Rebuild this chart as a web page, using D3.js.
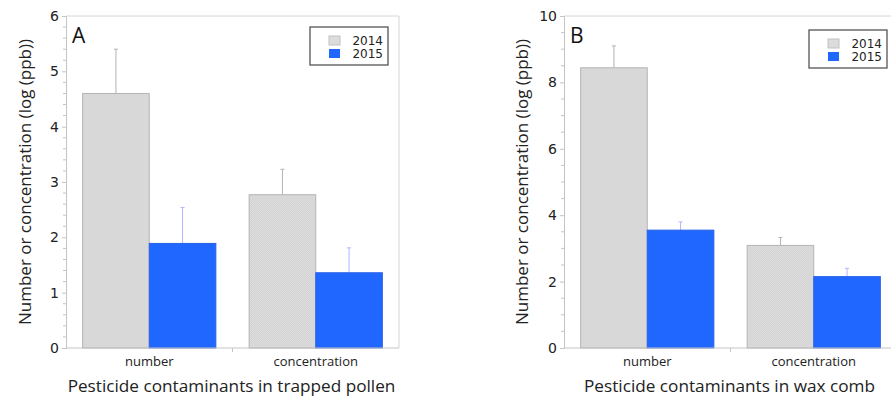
<!DOCTYPE html>
<html>
<head>
<meta charset="utf-8">
<script src="https://cdn.jsdelivr.net/npm/d3@7"></script>
<style>
  html, body { margin: 0; padding: 0; background: #fff; }
  svg { display: block; font-family: "Open Sans", "DejaVu Sans", sans-serif; }
</style>
</head>
<body>
<svg id="chart" width="891" height="398"></svg>
<script>
// Pesticide contaminants, log(ppb): bar means with upper error
const categories = ["number", "concentration"];
const years = ["2014", "2015"];

const pollen2014 = [4.60, 2.77];
const pollen2015 = [1.89, 1.36];
const pollenErr2014 = [0.80, 0.46];
const pollenErr2015 = [0.65, 0.45];

const wax2014 = [8.44, 3.09];
const wax2015 = [3.55, 2.15];
const waxErr2014 = [0.66, 0.24];
const waxErr2015 = [0.25, 0.25];

const pollenTicks = [0, 1, 2, 3, 4, 5, 6];
const waxTicks = [0, 2, 4, 6, 8, 10];

const yLabel = "Number or concentration (log (ppb))";

const panels = [
  {
    letter: "A", title: "Pesticide contaminants in trapped pollen",
    v14: pollen2014, v15: pollen2015, e14: pollenErr2014, e15: pollenErr2015,
    ticks: pollenTicks, minorStep: 0.2,
    left: 66, right: 399, legendX: 310, legendY: 27, yLabelX: 25
  },
  {
    letter: "B", title: "Pesticide contaminants in wax comb",
    v14: wax2014, v15: wax2015, e14: waxErr2014, e15: waxErr2015,
    ticks: waxTicks, minorStep: 0.5,
    left: 564, right: 897, legendX: 809, legendY: 30, yLabelX: 522
  }
];

const plotTop = 16, plotBottom = 348;
const grayFill = "url(#grayTexture)";
const blue = "#2067ff";
const axisColor = "#c4c4c4";

const svg = d3.select("#chart");

// fine checker texture for the 2014 bars
const pat = svg.append("defs").append("pattern")
  .attr("id", "grayTexture").attr("width", 2).attr("height", 2)
  .attr("patternUnits", "userSpaceOnUse");
pat.append("rect").attr("width", 2).attr("height", 2).attr("fill", "#dedede");
pat.append("rect").attr("width", 1).attr("height", 1).attr("fill", "#d2d2d2");
pat.append("rect").attr("x", 1).attr("y", 1).attr("width", 1).attr("height", 1).attr("fill", "#d2d2d2");

panels.forEach(p => {
  const g = svg.append("g");
  const yMax = d3.max(p.ticks);
  const y = d3.scaleLinear().domain([0, yMax]).range([plotBottom, plotTop]);
  const x = d3.scaleBand().domain(categories).range([p.left, p.right])
    .paddingInner(0.2).paddingOuter(0.1);
  const xs = d3.scaleBand().domain(years).range([0, x.bandwidth()]);

  // frame: top and right borders
  g.append("path")
    .attr("d", `M${p.left},${plotTop}H${p.right}V${plotBottom}`)
    .attr("fill", "none").attr("stroke", "#d6d6d6").attr("stroke-width", 1);

  // bars
  const rows = categories.map((c, i) => ({
    cat: c,
    items: [
      { year: "2014", v: p.v14[i], e: p.e14[i] },
      { year: "2015", v: p.v15[i], e: p.e15[i] }
    ]
  }));

  const grp = g.selectAll("g.cat").data(rows).join("g")
    .attr("class", "cat")
    .attr("transform", d => `translate(${x(d.cat)},0)`);

  // error bars (upper only), drawn behind the bars
  grp.selectAll("g.err").data(d => d.items).join("g").attr("class", "err").each(function(d) {
    const cx = xs(d.year) + xs.bandwidth() / 2;
    const col = d.year === "2014" ? "#b3b3b3" : "#b2b6ff";
    const e = d3.select(this);
    e.append("line").attr("x1", cx).attr("x2", cx)
      .attr("y1", y(d.v)).attr("y2", y(d.v + d.e))
      .attr("stroke", col).attr("stroke-width", 1);
    e.append("line").attr("x1", cx - 2).attr("x2", cx + 2)
      .attr("y1", y(d.v + d.e)).attr("y2", y(d.v + d.e))
      .attr("stroke", col).attr("stroke-width", 1);
  });

  grp.selectAll("rect.bar").data(d => d.items).join("rect")
    .attr("class", "bar")
    .attr("x", d => xs(d.year))
    .attr("y", d => y(d.v))
    .attr("width", xs.bandwidth())
    .attr("height", d => y(0) - y(d.v))
    .attr("fill", d => d.year === "2014" ? grayFill : blue)
    .attr("stroke", d => d.year === "2014" ? "#b4b4b4" : "#2a62e8")
    .attr("stroke-width", 1);

  // y axis with minor ticks
  const yAxis = d3.axisLeft(y).tickValues(p.ticks).tickSize(4).tickPadding(3)
    .tickFormat(d3.format("d"));
  const ya = g.append("g").attr("transform", `translate(${p.left},0)`).call(yAxis);
  ya.select(".domain").attr("stroke", axisColor);
  ya.selectAll(".tick line").attr("stroke", axisColor);
  ya.selectAll(".tick text").attr("fill", "#222").attr("font-size", 14)
    .attr("font-family", "'DejaVu Sans', sans-serif");
  const minor = d3.range(0, yMax + 1e-9, p.minorStep)
    .filter(v => !p.ticks.some(t => Math.abs(t - v) < 1e-6));
  ya.selectAll("line.minor").data(minor).join("line")
    .attr("class", "minor").attr("x1", -3).attr("x2", 0)
    .attr("y1", d => y(d)).attr("y2", d => y(d))
    .attr("stroke", axisColor);

  // x axis: baseline plus divider tick between categories
  const xa = g.append("g").attr("transform", `translate(0,${plotBottom})`);
  xa.append("line").attr("x1", p.left).attr("x2", p.right)
    .attr("stroke", axisColor);
  const divider = p.left + x.step();
  xa.append("line").attr("x1", divider).attr("x2", divider)
    .attr("y1", 0).attr("y2", 4).attr("stroke", axisColor);
  xa.selectAll("text").data(categories).join("text")
    .attr("x", d => x(d) + x.bandwidth() / 2).attr("y", 18)
    .attr("text-anchor", "middle").attr("font-size", 13).attr("fill", "#222")
    .text(d => d);

  // axis titles
  g.append("text")
    .attr("x", (p.left + p.right) / 2 - 1)
    .attr("y", 392)
    .attr("text-anchor", "middle").attr("font-size", 17.2).attr("fill", "#222")
    .text(p.title);
  g.append("text")
    .attr("transform", `translate(${p.yLabelX},${(plotTop + plotBottom) / 2}) rotate(-90)`)
    .attr("dy", "0.35em")
    .attr("text-anchor", "middle").attr("font-size", 17).attr("fill", "#222")
    .text(yLabel);

  // panel letter
  g.append("text").attr("x", p.left + 6).attr("y", 43)
    .attr("font-size", 21).attr("fill", "#111").text(p.letter);

  // legend
  const lg = g.append("g").attr("transform", `translate(${p.legendX},${p.legendY})`);
  lg.append("rect").attr("width", 78).attr("height", 38)
    .attr("fill", "#fff").attr("stroke", "#555").attr("stroke-width", 1.3);
  years.forEach((yr, i) => {
    lg.append("rect").attr("x", 19).attr("y", 9 + i * 13)
      .attr("width", 11).attr("height", 9)
      .attr("fill", i === 0 ? "#dcdcdc" : blue)
      .attr("stroke", i === 0 ? "#c2c2c2" : "none");
    lg.append("text").attr("x", 73).attr("y", 18 + i * 13)
      .attr("text-anchor", "end").attr("font-size", 12)
      .attr("font-family", "'DejaVu Sans', sans-serif")
      .attr("fill", "#222").text(yr);
  });
});
</script>
</body>
</html>
